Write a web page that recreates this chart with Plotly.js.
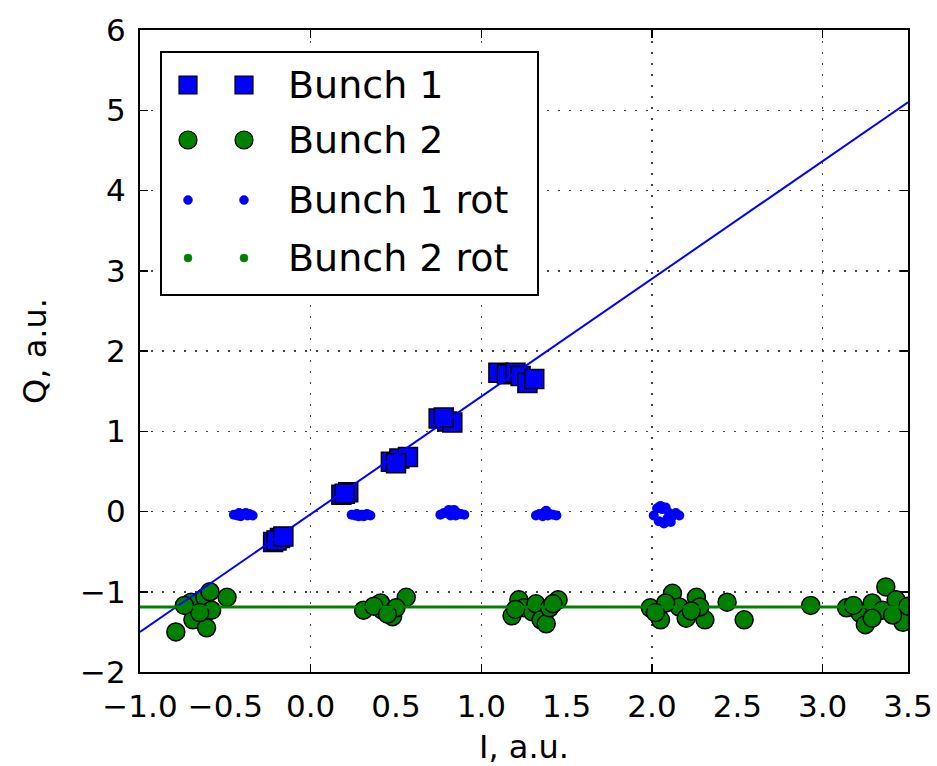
<!DOCTYPE html>
<html>
<head>
<meta charset="utf-8">
<script src="https://cdn.plot.ly/plotly-3.0.1.min.js"></script>
<style>
  html, body { margin: 0; padding: 0; background: #ffffff; }
  #chart { width: 937px; height: 766px; }
</style>
</head>
<body>
<div id="chart"></div>
<script>
// ---------- data ----------
const bunch1X = [-0.22, -0.18, -0.20, -0.16, 0.18, 0.22, 0.20, 0.47, 0.52, 0.57, 0.50,
                 0.75, 0.80, 0.83, 0.78, 1.10, 1.15, 1.20, 1.23, 1.27, 1.31];
const bunch1Y = [-0.38, -0.33, -0.36, -0.31, 0.21, 0.24, 0.22, 0.62, 0.66, 0.68, 0.60,
                 1.16, 1.12, 1.11, 1.17, 1.73, 1.71, 1.73, 1.69, 1.60, 1.65];

const bunch2X = [-0.79, -0.69, -0.61, -0.70, -0.62, -0.58, -0.49, -0.59, -0.65, -0.74,
                 0.31, 0.42, 0.48, 0.56, 0.41, 0.50, 0.37, 0.45,
                 1.18, 1.22, 1.25, 1.30, 1.32, 1.35, 1.38, 1.40, 1.45, 1.42, 1.20,
                 1.99, 2.05, 2.12, 2.16, 2.20, 2.26, 2.31, 2.28, 2.08, 2.02, 2.23,
                 2.44, 2.54, 2.93,
                 3.14, 3.22, 3.25, 3.29, 3.37, 3.35, 3.43, 3.47, 3.41, 3.29, 3.18, 3.50];
const bunch2Y = [-1.50, -1.35, -1.45, -1.13, -1.07, -1.23, -1.07, -1.00, -1.26, -1.17,
                 -1.23, -1.23, -1.31, -1.07, -1.14, -1.20, -1.18, -1.28,
                 -1.30, -1.10, -1.20, -1.25, -1.15, -1.35, -1.40, -1.20, -1.10, -1.15, -1.22,
                 -1.20, -1.35, -1.02, -1.19, -1.33, -1.07, -1.35, -1.19, -1.14, -1.26, -1.24,
                 -1.13, -1.35, -1.17,
                 -1.20, -1.27, -1.41, -1.14, -0.94, -1.23, -1.10, -1.38, -1.29, -1.33, -1.17, -1.18];

const bunch1RotX = [-0.45, -0.43, -0.42, -0.40, -0.39, -0.37, -0.36, -0.34, -0.41, -0.38,
                    0.24, 0.26, 0.27, 0.29, 0.30, 0.32, 0.33, 0.35, 0.28, 0.31,
                    0.76, 0.78, 0.80, 0.81, 0.83, 0.84, 0.86, 0.88, 0.90, 0.82, 0.85,
                    1.32, 1.34, 1.35, 1.37, 1.38, 1.40, 1.42, 1.44, 1.39, 1.36,
                    2.01, 2.03, 2.05, 2.06, 2.08, 2.10, 2.12, 2.14, 2.16, 2.04, 2.07, 2.09, 2.11];
const bunch1RotY = [-0.04, -0.05, -0.02, -0.04, -0.03, -0.05, -0.03, -0.05, -0.06, -0.02,
                    -0.04, -0.05, -0.03, -0.05, -0.04, -0.05, -0.03, -0.05, -0.06, -0.06,
                    -0.04, -0.02, -0.01, 0.02, 0.01, 0.02, -0.02, -0.03, -0.04, -0.05, -0.05,
                    -0.05, -0.03, -0.04, -0.01, 0.01, -0.03, -0.04, -0.05, -0.05, -0.06,
                    -0.05, 0.04, 0.07, 0.03, 0.05, -0.02, -0.06, -0.02, -0.05, -0.12, -0.15, -0.09, -0.13];

const bunch2RotX = [null];
const bunch2RotY = [null];

const fitX = [-1.0, 3.5];
const fit1Y = [-1.50, 5.10];
const fit2Y = [-1.19, -1.19];

const xTickVals = [-1.0, -0.5, 0.0, 0.5, 1.0, 1.5, 2.0, 2.5, 3.0, 3.5];
const xTickText = ['\u22121.0', '\u22120.5', '0.0', '0.5', '1.0', '1.5', '2.0', '2.5', '3.0', '3.5'];
const yTickVals = [-2, -1, 0, 1, 2, 3, 4, 5, 6];
const yTickText = ['\u22122', '\u22121', '0', '1', '2', '3', '4', '5', '6'];

const legendLabels = ['Bunch 1', 'Bunch 2', 'Bunch 1 rot', 'Bunch 2 rot'];
const legendSymbols = ['rect', 'circle', 'circle', 'circle'];
const legendColors = ['#0000ff', '#008000', '#0000ff', '#008000'];
const legendOutlines = ['#000000', '#000000', '#0000ff', '#008000'];
const legendHalfSizes = [9, 9, 4.5, 4];

// ---------- traces ----------
const traces = [
  { x: fitX, y: fit1Y, xaxis: 'x2', mode: 'lines', name: 'fit 1', showlegend: false,
    line: { color: '#0000ff', width: 2 }, hoverinfo: 'skip' },
  { x: fitX, y: fit2Y, xaxis: 'x2', mode: 'lines', name: 'fit 2', showlegend: false,
    line: { color: '#008000', width: 3 }, hoverinfo: 'skip' },
  { x: bunch2RotX, y: bunch2RotY, mode: 'markers', name: 'Bunch 2 rot', showlegend: false,
    marker: { symbol: 'circle', size: 8, color: '#008000', line: { width: 0 } } },
  { x: bunch1RotX, y: bunch1RotY, mode: 'markers', name: 'Bunch 1 rot', showlegend: false,
    marker: { symbol: 'circle', size: 10, color: '#0000ff', line: { width: 0 } } },
  { x: bunch1X, y: bunch1Y, mode: 'markers', name: 'Bunch 1', showlegend: false,
    marker: { symbol: 'square', size: 19, color: '#0000ff', line: { color: '#000000', width: 1.5 } } },
  { x: bunch2X, y: bunch2Y, mode: 'markers', name: 'Bunch 2', showlegend: false,
    marker: { symbol: 'circle', size: 18, color: '#008000', line: { color: '#000000', width: 1.5 } } }
];

// ---------- legend (custom, matplotlib style with two markers) ----------
const plotL = 140, plotR = 908, plotT = 30, plotB = 672;
const px2paperX = p => (p - plotL) / (plotR - plotL);
const px2paperY = p => (plotB - p) / (plotB - plotT);
const rowPx = [85, 140, 200, 258];
const markPx = [188, 244];

const shapes = [{
  type: 'rect', xref: 'paper', yref: 'paper',
  x0: px2paperX(161), x1: px2paperX(538), y0: px2paperY(295), y1: px2paperY(52),
  fillcolor: '#ffffff', line: { color: '#000000', width: 2 }, layer: 'above'
}];
const annotations = [];
legendLabels.forEach((lab, i) => {
  markPx.forEach(mx => {
    const h = legendHalfSizes[i];
    shapes.push({
      type: legendSymbols[i], xref: 'paper', yref: 'paper',
      xsizemode: 'pixel', ysizemode: 'pixel',
      xanchor: px2paperX(mx), yanchor: px2paperY(rowPx[i]),
      x0: -h, x1: h, y0: -h, y1: h,
      fillcolor: legendColors[i],
      line: { color: legendOutlines[i], width: i < 2 ? 1.2 : 0.5 },
      layer: 'above'
    });
  });
  annotations.push({
    xref: 'paper', yref: 'paper', x: px2paperX(286), y: px2paperY(rowPx[i]),
    xanchor: 'left', yanchor: 'middle', showarrow: false, text: lab,
    font: { family: 'DejaVu Sans', size: 38, color: '#000000' }
  });
});

const tickFont = { family: 'DejaVu Sans', size: 31, color: '#000000' };
const gridDash = '2px,9px';

const layout = {
  width: 937, height: 766,
  margin: { l: plotL, r: 937 - plotR, t: plotT, b: 766 - plotB },
  paper_bgcolor: '#ffffff', plot_bgcolor: '#ffffff',
  showlegend: false,
  font: { family: 'DejaVu Sans', color: '#000000' },
  xaxis: {
    range: [-1, 3.5], tickmode: 'array', tickvals: xTickVals, ticktext: xTickText,
    ticks: '', showgrid: false, zeroline: false,
    showline: true, linecolor: '#000000', linewidth: 2, mirror: true,
    tickfont: tickFont, ticklabelstandoff: 6,
    title: { text: 'I, a.u.', font: { family: 'DejaVu Sans', size: 32, color: '#000000' }, standoff: 14 }
  },
  xaxis2: {
    overlaying: 'x', range: [-1, 3.5], tickmode: 'linear', tick0: 0, dtick: 1,
    showticklabels: false, ticks: 'inside', ticklen: 8, tickwidth: 1.5, tickcolor: '#000000',
    mirror: 'ticks', showline: false, zeroline: false,
    showgrid: true, gridcolor: '#444444', gridwidth: 1.5, griddash: gridDash
  },
  yaxis: {
    range: [-2, 6], tickmode: 'array', tickvals: yTickVals, ticktext: yTickText,
    ticks: 'inside', ticklen: 8, tickwidth: 1.5, tickcolor: '#000000',
    showline: true, linecolor: '#000000', linewidth: 2, mirror: 'ticks',
    zeroline: false, showgrid: true, gridcolor: '#444444', gridwidth: 1.5, griddash: gridDash,
    tickfont: tickFont, ticklabelstandoff: 6,
    title: { text: 'Q, a.u.', font: { family: 'DejaVu Sans', size: 32, color: '#000000' }, standoff: 24 }
  },
  shapes: shapes,
  annotations: annotations
};

Plotly.newPlot('chart', traces, layout, { displayModeBar: false, staticPlot: true });
</script>
</body>
</html>
